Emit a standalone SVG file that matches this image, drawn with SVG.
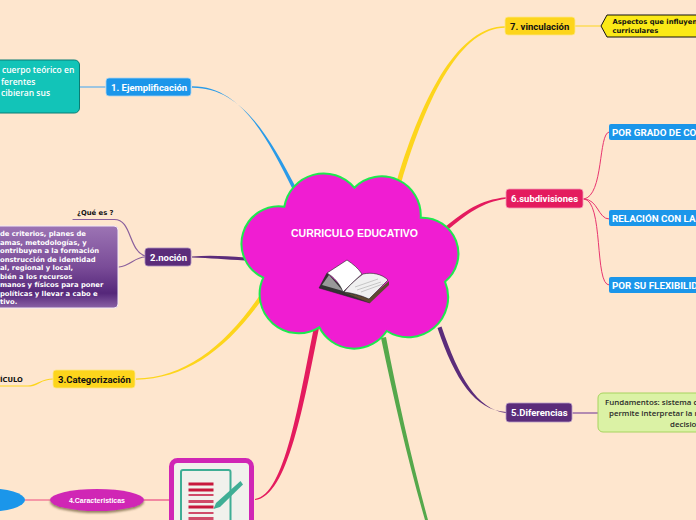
<svg xmlns="http://www.w3.org/2000/svg" width="696" height="520" viewBox="0 0 696 520">
<style>
.t{font-family:Roboto,"Liberation Sans",sans-serif;font-size:9.500px;font-weight:700;fill:#fff}
.u{font-size:9.800px}
.d{font-family:"DejaVu Sans",sans-serif;font-size:6.800px;font-weight:700;fill:#fff}
.k{fill:#111}
.l{fill:none;stroke-linecap:round}
</style>
<defs>
<linearGradient id="pg" x1="0" y1="0" x2="0" y2="1"><stop offset="0" stop-color="#9c74b4"/><stop offset=".5" stop-color="#7a4c98"/><stop offset=".82" stop-color="#55277a"/><stop offset="1" stop-color="#8a62a6"/></linearGradient>
<filter id="sh" x="-20%" y="-30%" width="140%" height="170%"><feDropShadow dx="0" dy="2" stdDeviation="1" flood-color="#6a5a30" flood-opacity=".7"/></filter>
</defs>
<rect width="696" height="520" fill="#fee6ce"/>
<g id="connectors">
<path d="M192 86.300C240 86 266 135 293 190L296.500 188.500C268 134 240 87 192 87.700Z" fill="#2a9be8"/>
<path d="M505 26.300C460 27 424 90 396.500 182L401 183.500C428 92 462 28 505 27.700Z" fill="#fdd51c"/>
<path d="M506 197.300C480 200 465 211 445 227L447 230.500C467 214 482 202 506 198.700Z" fill="#e41b5e"/>
<path d="M506 412C475 410 455 380 437.500 328L441.500 326.500C459 378 477 409 506 413Z" fill="#5b2c7a"/>
<path d="M381 338C394 400 409 465 425 520L428 520C413 465 398 400 386 337Z" fill="#55a84b"/>
<path d="M255 499C285 495 299 400 314 327L319 328C304 402 288 497 255 500Z" fill="#e41b5e"/>
<path d="M136 378.500C185 378 226 345 260 295L263.500 297.500C228 348 187 379 136 379.700Z" fill="#fdd51c"/>
<path d="M192 256.500C210 255 225 256 245 257.500L245 260.500C225 259.500 210 258 192 257.500Z" fill="#5b2c7a"/>
<path class="l" d="M80 87H105" stroke="#7dbbe6" stroke-width="1.500"/>
<path class="l" d="M73 219.500H114C132 219 128 250 145 256" stroke="#8a5f9c" stroke-width="1.200"/>
<path class="l" d="M119 267C130 266 135 257 145 257" stroke="#8a5f9c" stroke-width="1.200"/>
<path class="l" d="M0 386H28C38 386 40 379 53 379" stroke="#fdd51c" stroke-width="1.200"/>
<path class="l" d="M144 500H170" stroke="#ee6a92" stroke-width="1.500"/>
<path class="l" d="M25 500H50" stroke="#ee4a80" stroke-width="1.200"/>
<path class="l" d="M575 26H600" stroke="#fddb5a" stroke-width="1.500"/>
<path class="l" d="M584 199C604 196 598 133 609 132" stroke="#e8356f" stroke-width="1"/>
<path class="l" d="M584 199C598 199 598 219 609 219" stroke="#e8356f" stroke-width="1"/>
<path class="l" d="M584 199C604 200 594 285 609 285" stroke="#e8356f" stroke-width="1"/>
<path class="l" d="M573 413H598" stroke="#9a6ea8" stroke-width="1.500"/>
</g>
<g id="central">
<path d="M284.300 206.700A40 40 0 0 1 354.300 187.700A39 39 0 0 1 420.700 217.700A36 36 0 0 1 445 281.700A40 40 0 0 1 386.700 331A39 39 0 0 1 319.300 327.300A39 39 0 0 1 263.300 277.700A37.400 37.400 0 0 1 284.300 206.700Z" fill="#f01dd2" stroke="#1fe84f" stroke-width="2"/>
<text x="354.500" y="237" text-anchor="middle" font-family="'Liberation Sans',Arial,sans-serif" font-size="10.500" font-weight="700" fill="#fff">CURRICULO EDUCATIVO</text>
<g id="book">
<path d="M319 288L327 273L345 290L366 298L370 303Z" fill="#333" stroke="#222" stroke-width=".5"/>
<path d="M322 285L329 275L343 291Z" fill="#999"/>
<path d="M370 303L389 285L389 281L369 298L343 292Z" fill="#5e4a30"/>
<path d="M344 292C352 282 358 278 363 274C372 272 382 274 388 280L369 299C360 295 352 293 344 292Z" fill="#f0f0f0" stroke="#222" stroke-width=".6"/>
<path d="M355 287L378 279M357 290L381 282M361 292L383 284" stroke="#aaa" stroke-width=".6" fill="none"/>
<path d="M327 273L347 260C353 264 358 268 362 274C356 279 350 285 343 292C340 284 334 277 327 273Z" fill="#fff" stroke="#222" stroke-width=".6"/>
</g>
</g>
<g id="n1">
<rect x="106" y="78" width="85" height="18" rx="3" fill="#1b96ea" stroke="#a8d2f0" stroke-width=".8"/>
<text class="t" x="111" y="90.500">1. Ejemplificación</text>
</g>
<g id="n1a">
<rect x="-12" y="60" width="91.500" height="53" rx="5" fill="#12c4b8" stroke="#0b7d74" stroke-width="1"/>
<g font-family="'Open Sans','Noto Sans',sans-serif" font-size="8.500" font-weight="600" fill="#fff"><text x="2" y="73">cuerpo teórico en</text><text x="1" y="84.500">ferentes</text><text x="1" y="96">cibieran sus</text></g>
</g>
<g id="n2">
<rect x="145" y="248" width="46" height="18" rx="3" fill="#5b2c7a" stroke="#a88cbc" stroke-width=".8"/>
<text class="t" x="150" y="260.500">2.noción</text>
</g>
<g id="n2a"><text class="d k" x="77" y="214.500">¿Qué es ?</text></g>
<g id="n2b">
<rect x="-12" y="226" width="130" height="82" rx="4" fill="url(#pg)" stroke="#f3e9f5" stroke-width="1"/>
<text class="d" x="0" y="236">de criterios, planes de</text>
<text class="d" x="0" y="244.500">amas, metodologías, y</text>
<text class="d" x="0" y="253">ontribuyen a la formación</text>
<text class="d" x="0" y="261.500">onstrucción de identidad</text>
<text class="d" x="0" y="270">al, regional y local,</text>
<text class="d" x="0" y="278.500">bién a los recursos</text>
<text class="d" x="0" y="287">manos y físicos para poner</text>
<text class="d" x="0" y="295.500">políticas y llevar a cabo e</text>
<text class="d" x="0" y="304">tivo.</text>
</g>
<g id="n3">
<rect x="53" y="370" width="82" height="18" rx="3" fill="#fdd51c" stroke="#fde68a" stroke-width=".8"/>
<text class="t k" x="58" y="382.500">3.Categorización</text>
</g>
<g id="n3a"><text class="d k" x="0" y="382">ÍCULO</text></g>
<g id="n4">
<ellipse cx="97" cy="500" rx="47" ry="11" fill="#d026b5" filter="url(#sh)"/>
<text x="97" y="503" text-anchor="middle" font-family="'Liberation Sans',sans-serif" font-size="7" font-weight="700" fill="#fff">4.Caracteristicas</text>
</g>
<g id="n4a"><ellipse cx="-15" cy="500" rx="40" ry="12" fill="#1b96ea"/></g>
<g id="n4b">
<rect x="171.500" y="460.500" width="80" height="70" rx="6" fill="#f1f1ec" stroke="#d026b5" stroke-width="5"/>
<rect x="181" y="470" width="49.500" height="60" rx="2" fill="#f1f1ec" stroke="#3fae95" stroke-width="2"/>
<g fill="#c8183c">
<rect x="188.500" y="482.500" width="25" height="3"/>
<rect x="188.500" y="488.500" width="25" height="3"/>
<rect x="188.500" y="494" width="25" height="2" fill="#d04a68"/>
<rect x="188.500" y="500" width="25" height="3" fill="#d04a68"/>
<rect x="188.500" y="505.500" width="25" height="3"/>
<rect x="188.500" y="512" width="25" height="2" fill="#d04a68"/>
<rect x="188.500" y="517" width="25" height="3" fill="#d04a68"/>
</g>
<path d="M240.500 481L243 484.500L220 507L213.500 509L216 503Z" fill="#3fae95"/>
</g>
<g id="n5">
<rect x="506" y="403" width="66" height="19" rx="3" fill="#5b2c7a" stroke="#b79cc6" stroke-width=".8"/>
<text class="t" x="511" y="416">5.Diferencias</text>
</g>
<g id="n5a">
<rect x="598" y="393" width="120" height="39" rx="5" fill="#dbf2a5" stroke="#a6d45e" stroke-width="1"/>
<g font-family="'Open Sans','Noto Sans',sans-serif" font-size="7.900" font-weight="600" fill="#2a2a2a"><text x="605" y="405">Fundamentos: sistema d</text><text x="609" y="416">permite interpretar la r</text><text x="670" y="427">decisio</text></g>
</g>
<g id="n6">
<rect x="506" y="189" width="77" height="19" rx="3" fill="#e41b5e" stroke="#f29ab8" stroke-width=".8"/>
<text class="t" x="511" y="201.500">6.subdivisiones</text>
</g>
<g id="n6a"><rect x="609" y="124" width="100" height="16" rx="2" fill="#1b96ea"/><text class="t u" x="612" y="135.500">POR GRADO DE CO</text></g>
<g id="n6b"><rect x="609" y="210" width="100" height="16" rx="2" fill="#1b96ea"/><text class="t u" x="612" y="222">RELACIÓN CON LA</text></g>
<g id="n6c"><rect x="609" y="277" width="100" height="16" rx="2" fill="#1b96ea"/><text class="t u" x="612" y="288.500">POR SU FLEXIBILID</text></g>
<g id="n7">
<rect x="505" y="17" width="70" height="18" rx="3" fill="#fdd51c" stroke="#fde68a" stroke-width=".8"/>
<text class="t k" x="510" y="29.500">7. vinculación</text>
</g>
<g id="n7a">
<path d="M601 26L607 15H710V37H607Z" fill="#fbe916" stroke="#111" stroke-width="1"/>
<text class="d k" x="612.500" y="24">Aspectos que influyen</text>
<text class="d k" x="612.500" y="33">curriculares</text>
</g>
</svg>
